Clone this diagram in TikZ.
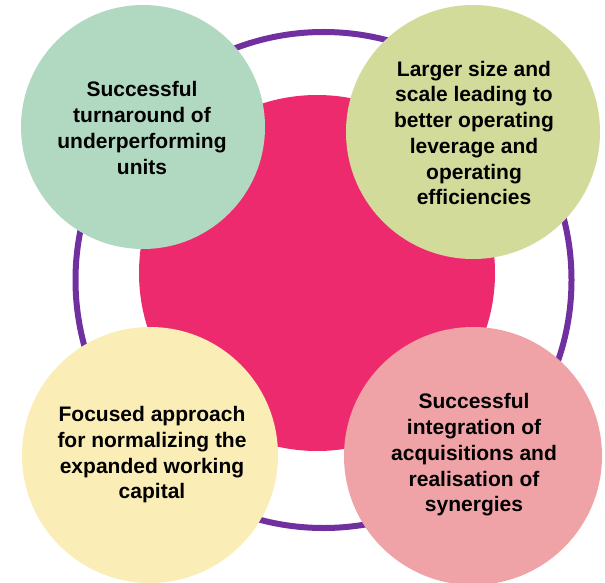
\documentclass[tikz,border=0pt]{standalone}
\usepackage{fontspec}
\setmainfont{Liberation Sans}
\definecolor{ringpurple}{HTML}{7030A0}
\definecolor{corepink}{HTML}{EE2A6E}
\definecolor{mint}{HTML}{B1D9C2}
\definecolor{olivelight}{HTML}{D2DB9A}
\definecolor{cream}{HTML}{FAEDB5}
\definecolor{salmon}{HTML}{F0A3A6}
\begin{document}
\begin{tikzpicture}[x=1pt,y=-1pt,
  bubble/.style={circle, inner sep=0pt},
  label/.style={align=center, font=\fontsize{21}{25.7}\selectfont\bfseries, text=black}]
  \useasboundingbox (0,0) rectangle (605,583);
  % outer ring and central disc
  \draw[ringpurple, line width=6pt] (323.5,280) circle[radius=248];
  \fill[corepink] (317,273) circle[radius=178];
  % four outer discs
  \fill[mint] (143,127) circle[radius=122];
  \fill[olivelight] (473,132) circle[radius=127];
  \fill[cream] (150,455) circle[radius=128];
  \fill[salmon] (473,456) circle[radius=129];
  % captions
  \node[label] (tl) at (142,128) {Successful\\turnaround of\\underperforming\\units};
  \node[label] (tr) at (474,133) {Larger size and\\scale leading to\\better operating\\leverage and\\operating\\efficiencies};
  \node[label] (bl) at (152,455) {Focused approach\\for normalizing the\\expanded working\\capital};
  \node[label] (br) at (474,455) {Successful\\integration of\\acquisitions and\\realisation of\\synergies};
\end{tikzpicture}
\end{document}
